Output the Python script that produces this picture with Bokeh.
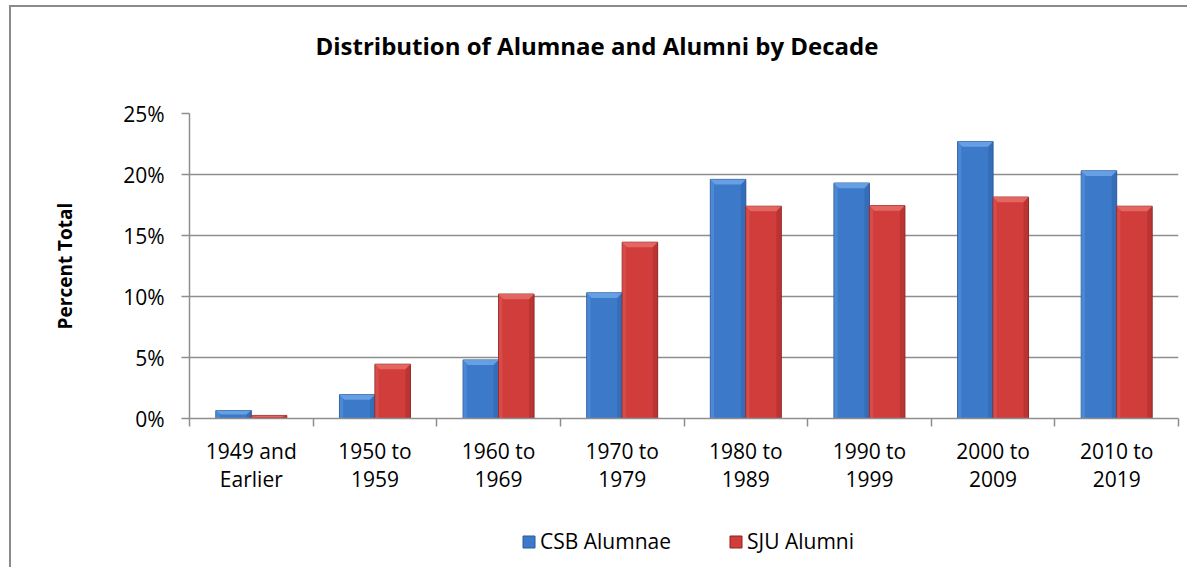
import numpy as np
from bokeh.plotting import figure
from bokeh.layouts import column
from bokeh.models import (Range1d, FixedTicker, PrintfTickFormatter, Legend, LegendItem,
                          ColumnDataSource, Label)
from bokeh.embed import file_html
from bokeh.resources import INLINE

# ---- data ----
categories = ["1949 and\nEarlier", "1950 to\n1959", "1960 to\n1969", "1970 to\n1979",
              "1980 to\n1989", "1990 to\n1999", "2000 to\n2009", "2010 to\n2019"]
csb_alumnae = [0.65, 1.95, 4.8, 10.3, 19.6, 19.3, 22.7, 20.3]
sju_alumni = [0.25, 4.45, 10.2, 14.45, 17.4, 17.45, 18.15, 17.4]
y_ticks = [0, 5, 10, 15, 20, 25]
series_names = ["CSB Alumnae", "SJU Alumni"]
title_text = "Distribution of Alumnae and Alumni by Decade"

FONT = "Open Sans"
n = len(categories)
centers = np.arange(n) + 0.5
bounds = list(range(n + 1))
bar_w = 0.287
off = bar_w / 2

W = 1178
ML, MR = 178, 11   # frame spans page x 189..1178

# ---- title strip ----
pt = figure(width=W, height=80, x_range=Range1d(0, 1), y_range=Range1d(0, 1),
            output_backend="svg", toolbar_location=None,
            min_border_left=ML, min_border_right=MR, min_border_top=0, min_border_bottom=0)
pt.axis.visible = False
pt.grid.visible = False
pt.outline_line_color = None
pt.add_layout(Label(x=0.412, y=0.525, text=title_text, text_align="center", text_baseline="middle",
                    text_font=FONT, text_font_size="24px", text_font_style="bold", text_color="black"))

# ---- main chart ----
p = figure(width=W, height=428, x_range=Range1d(0, n), y_range=Range1d(0, 25),
           output_backend="svg", toolbar_location=None,
           min_border_left=ML, min_border_right=MR, min_border_top=26, min_border_bottom=97)
p.outline_line_color = None
p.background_fill_color = "white"
p.border_fill_color = "white"

# grid
p.xgrid.visible = False
p.ygrid.grid_line_color = "#8e8e8e"
p.ygrid.grid_line_width = 1.5
p.ygrid.ticker = FixedTicker(ticks=y_ticks)

# x axis
xa = p.xaxis[0]
xa.ticker = FixedTicker(ticks=list(centers), minor_ticks=bounds)
xa.major_label_overrides = {float(c): lab for c, lab in zip(centers, categories)}
xa.major_tick_out = 0
xa.major_tick_in = 0
xa.minor_tick_out = 8
xa.minor_tick_in = 0
xa.minor_tick_line_color = "#8e8e8e"
xa.minor_tick_line_width = 1.5
xa.axis_line_color = "#8e8e8e"
xa.axis_line_width = 1.5
xa.major_label_text_font = FONT
xa.major_label_text_font_size = "21px"
xa.major_label_text_color = "black"
xa.major_label_text_line_height = 1.03
xa.major_label_standoff = 10

# y axis
ya = p.yaxis[0]
ya.ticker = FixedTicker(ticks=y_ticks)
ya.formatter = PrintfTickFormatter(format="%d%%")
ya.minor_tick_line_color = None
ya.major_tick_out = 8
ya.major_tick_in = 0
ya.major_tick_line_color = "#8e8e8e"
ya.major_tick_line_width = 1.5
ya.axis_line_color = "#8e8e8e"
ya.axis_line_width = 1.5
ya.major_label_text_font = FONT
ya.major_label_text_font_size = "21px"
ya.major_label_text_color = "black"
ya.major_label_standoff = 17
ya.axis_label = "Percent Total"
ya.axis_label_text_font = FONT
ya.axis_label_text_font_size = "19px"
ya.axis_label_text_font_style = "bold"
ya.axis_label_text_color = "black"
ya.axis_label_standoff = 42

# bars with simple bevel look
styles = [
    dict(fill="#3c7ac9", line="#2a5b98", bevel="#6aa3e6", shade="#2f63a9", dx=-off),
    dict(fill="#d03d3b", line="#8c2523", bevel="#e66a66", shade="#a92d2b", dx=off),
]
for vals, st in zip([csb_alumnae, sju_alumni], styles):
    vals = np.array(vals, dtype=float)
    xs = centers + st["dx"]
    src = ColumnDataSource(dict(x=xs, top=vals))
    p.vbar(x="x", top="top", bottom=0, width=bar_w, source=src,
           fill_color=st["fill"], line_color=st["line"], line_width=1)
    # right-side shading
    p.vbar(x=xs + bar_w / 2 - 0.02, top=vals, bottom=0, width=0.04,
           fill_color=st["shade"], fill_alpha=0.55, line_color=None)
    # left highlight
    p.vbar(x=xs - bar_w / 2 + 0.015, top=vals, bottom=0, width=0.03,
           fill_color=st["bevel"], fill_alpha=0.35, line_color=None)
    # top bevel
    dy = np.minimum(0.42, vals / 2)
    bx = 0.04
    pxs = [[x - bar_w / 2, x + bar_w / 2, x + bar_w / 2 - bx, x - bar_w / 2 + bx] for x in xs]
    pys = [[v, v, v - d, v - d] for v, d in zip(vals, dy)]
    p.patches(pxs, pys, fill_color=st["bevel"], line_color=None, fill_alpha=0.9)

# ---- legend strip below the chart ----
pl = figure(width=W, height=54, x_range=Range1d(0, 1), y_range=Range1d(0, 1),
            output_backend="svg", toolbar_location=None,
            min_border_left=ML, min_border_right=MR, min_border_top=0, min_border_bottom=0)
pl.axis.visible = False
pl.grid.visible = False
pl.outline_line_color = None
leg_renderers = []
for st in styles:
    r = pl.vbar(x=[0.5], top=[0.5], bottom=0.4, width=0.1,
                fill_color=st["fill"], line_color=st["line"], line_width=1)
    r.visible = False
    leg_renderers.append(r)
legend = Legend(items=[LegendItem(label=nm, renderers=[r]) for nm, r in zip(series_names, leg_renderers)],
                orientation="horizontal", location=(332, 14), glyph_width=15, glyph_height=15,
                label_standoff=4, spacing=57, border_line_color=None, background_fill_alpha=0,
                inactive_fill_alpha=0,
                label_text_font=FONT, label_text_font_size="21px", label_text_color="black",
                padding=0, margin=0)
pl.add_layout(legend)

layout = column(pt, p, pl, spacing=0,
                styles={"margin-left": "11px", "margin-top": "7px",
                        "box-shadow": "-2px -2px 0px 0px #8a8a8a"})

html = file_html(layout, INLINE)
html = html.replace("<head>", "<head><style>html, body { overflow: hidden; }</style>", 1)
open("out.html", "w").write(html)
